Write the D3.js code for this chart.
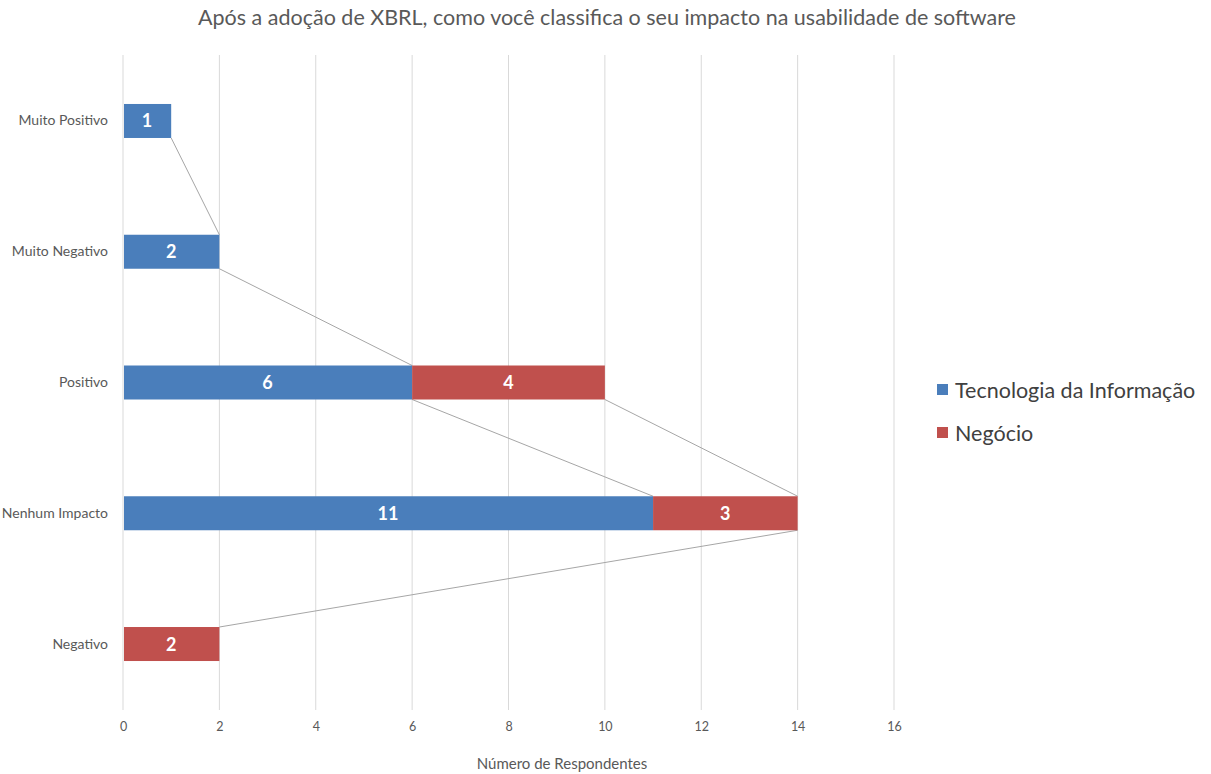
<!DOCTYPE html>
<html>
<head>
<meta charset="utf-8">
<script src="https://cdn.jsdelivr.net/npm/d3@7"></script>
<style>
  html, body { margin: 0; padding: 0; background: #fff; }
  svg { display: block; font-family: Lato, "Open Sans", sans-serif; }
</style>
</head>
<body>
<svg id="chart" width="1211" height="774"></svg>
<script>
// Responses per category, stacked: IT first, then business
const categories = ["Muito Positivo", "Muito Negativo", "Positivo", "Nenhum Impacto", "Negativo"];
const tiValues = [1, 2, 6, 11, null];
const negocioValues = [null, null, 4, 3, 2];
const xTicks = [0, 2, 4, 6, 8, 10, 12, 14, 16];
const seriesNames = ["Tecnologia da Informação", "Negócio"];
const seriesColors = ["#4a7ebb", "#c0504d"];

const svg = d3.select("#chart");

const x = d3.scaleLinear().domain([0, 16]).range([123, 894]);
const y = d3.scaleBand().domain(categories).range([55.6, 709.4])
  .paddingInner(0.74).paddingOuter(0.37);

// Title
svg.append("text")
  .attr("x", 607).attr("y", 25)
  .attr("text-anchor", "middle")
  .attr("font-size", 21.5)
  .attr("fill", "#595959")
  .text("Após a adoção de XBRL, como você classifica o seu impacto na usabilidade de software");

// Vertical gridlines
svg.append("g").selectAll("line").data(xTicks).join("line")
  .attr("x1", d => x(d)).attr("x2", d => x(d))
  .attr("y1", 55).attr("y2", 710)
  .attr("stroke", "#d9d9d9").attr("stroke-width", 1);

// X axis tick labels
const xAxis = d3.axisBottom(x).tickValues(xTicks).tickSize(0).tickPadding(0);
const gx = svg.append("g").attr("transform", "translate(0,722)").call(xAxis);
gx.select(".domain").remove();
gx.selectAll("text")
  .attr("font-family", "Lato, 'Open Sans', sans-serif")
  .attr("font-size", 12.5).attr("fill", "#595959");

svg.append("text")
  .attr("x", 562).attr("y", 769)
  .attr("text-anchor", "middle")
  .attr("font-size", 15).attr("fill", "#595959")
  .text("Número de Respondentes");

// Y axis category labels
const yAxis = d3.axisLeft(y).tickSize(0).tickPadding(0);
const gy = svg.append("g").attr("transform", "translate(108,0)").call(yAxis);
gy.select(".domain").remove();
gy.selectAll("text")
  .attr("font-family", "Lato, 'Open Sans', sans-serif")
  .attr("font-size", 14).attr("fill", "#595959");

// Stack the two series
const rows = categories.map((c, i) => ({ cat: c, ti: tiValues[i], neg: negocioValues[i] }));
const stacked = rows.map(r => {
  const t = r.ti || 0;
  return {
    cat: r.cat,
    segs: [
      r.ti != null ? { s: 0, x0: 0, x1: t, v: r.ti } : null,
      r.neg != null ? { s: 1, x0: t, x1: t + r.neg, v: r.neg } : null
    ]
  };
});

// Series lines between neighbouring bars
const lineG = svg.append("g");
for (let s = 0; s < 2; s++) {
  for (let i = 0; i < stacked.length - 1; i++) {
    const a = stacked[i].segs[s], b = stacked[i + 1].segs[s];
    if (!a || !b) continue;
    lineG.append("line")
      .attr("x1", x(a.x1)).attr("y1", y(stacked[i].cat) + y.bandwidth())
      .attr("x2", x(b.x1)).attr("y2", y(stacked[i + 1].cat))
      .attr("stroke", "#a6a6a6").attr("stroke-width", 1);
  }
}

// Bars
const barG = svg.append("g");
stacked.forEach(r => {
  r.segs.forEach(sg => {
    if (!sg) return;
    barG.append("rect")
      .attr("x", x(sg.x0) + (sg.x0 === 0 ? 1 : 0))
      .attr("y", y(r.cat))
      .attr("width", x(sg.x1) - x(sg.x0) - (sg.x0 === 0 ? 1 : 0))
      .attr("height", y.bandwidth())
      .attr("fill", seriesColors[sg.s]);
    barG.append("text")
      .attr("x", (x(sg.x0) + x(sg.x1)) / 2)
      .attr("y", y(r.cat) + y.bandwidth() / 2)
      .attr("dy", "0.36em")
      .attr("text-anchor", "middle")
      .attr("font-size", 18).attr("font-weight", "bold")
      .attr("fill", "#fff")
      .text(sg.v);
  });
});

// Legend
const leg = svg.append("g");
seriesNames.forEach((n, i) => {
  const ly = 390 + i * 43;
  leg.append("rect").attr("x", 937).attr("y", ly - 6).attr("width", 11).attr("height", 11)
    .attr("fill", seriesColors[i]);
  leg.append("text").attr("x", 955).attr("y", ly).attr("dy", "0.36em")
    .attr("font-size", 21.5).attr("fill", "#404040").text(n);
});
</script>
</body>
</html>
